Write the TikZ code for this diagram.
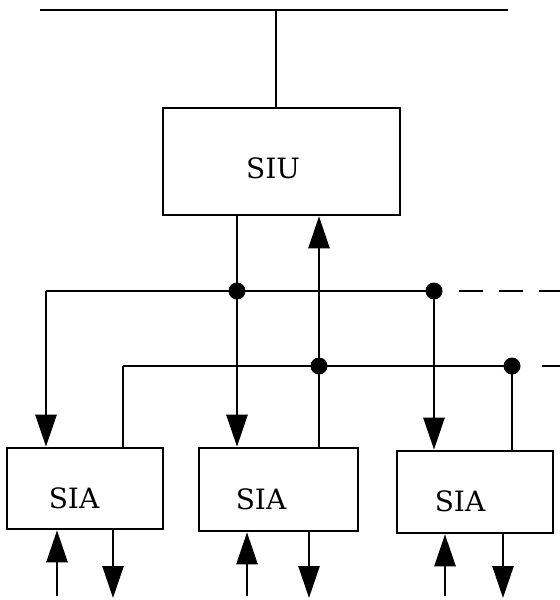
\documentclass[tikz,border=0pt]{standalone}
\usepackage{fontspec}
\setmainfont{DejaVu Serif}
\usetikzlibrary{arrows.meta}
\begin{document}
\begin{tikzpicture}[x=0.5pt,y=-0.5pt,
  line width=1.3pt,
  unit/.style={draw, rectangle, inner sep=0pt},
  boxtext/.style={inner sep=0pt, font=\fontsize{14}{16}\selectfont},
  tip/.style={-{Triangle[length=16pt,width=10.5pt]}},
  junction/.style={circle, fill, inner sep=0pt, minimum size=8.5pt},
  cont/.style={dash pattern=on 12pt off 8pt}]
\useasboundingbox (0,0) rectangle (560,600);

% system bus
\coordinate (busL) at (40,10);
\coordinate (busR) at (508,10);
\coordinate (busT) at (276,10);
\draw (busL) -- (busR);

% interface unit and adapters
\node[unit, minimum width=118.5pt, minimum height=53.5pt] (siu) at (281.5,161.5) {};
\node[boxtext] (siut) at (273,168) {SIU};
\node[unit, minimum width=78pt, minimum height=40.5pt] (sia1) at (85,488.5) {};
\node[boxtext] (sia1t) at (74,498) {SIA};
\node[unit, minimum width=79.5pt, minimum height=41.5pt] (sia2) at (278.5,489.5) {};
\node[boxtext] (sia2t) at (261,499) {SIA};
\node[unit, minimum width=78pt, minimum height=41pt] (sia3) at (475,492) {};
\node[boxtext] (sia3t) at (460,501) {SIA};

\draw (busT) -- (siu.north -| busT);

% downstream line (SIU -> adapters)
\coordinate (b1L) at (46,291);
\coordinate (d1) at (237,291);
\coordinate (d2) at (434,291);
\coordinate (c1a) at (459,291);
\coordinate (c1b) at (560,291);
\draw (b1L) -- (d2);
\draw[cont] (c1a) -- (c1b);
\draw (siu.south -| d1) -- (d1);
\draw[tip] (d1) -- (sia2.north -| d1);
\draw[tip] (b1L) -- (sia1.north -| b1L);
\draw[tip] (d2) -- (sia3.north -| d2);

% upstream line (adapters -> SIU)
\coordinate (b2L) at (123,366);
\coordinate (d3) at (319,366);
\coordinate (d4) at (512,366);
\coordinate (c2a) at (542,366);
\coordinate (c2b) at (560,366);
\draw (b2L) -- (d4);
\draw[cont] (c2a) -- (c2b);
\draw (sia1.north -| b2L) -- (b2L);
\draw (sia2.north -| d3) -- (d3);
\draw[tip] (d3) -- (siu.south -| d3);
\draw (sia3.north -| d4) -- (d4);

% junction dots
\foreach \j in {d1,d2,d3,d4} \node[junction] at (\j) {};

% adapter ports
\coordinate (in1) at (57,596);
\coordinate (out1) at (113,598);
\coordinate (in2) at (247,596);
\coordinate (out2) at (309,598);
\coordinate (in3) at (445,596);
\coordinate (out3) at (503,598);
\draw[tip] (in1) -- (in1 |- sia1.south);
\draw[tip] (out1 |- sia1.south) -- (out1);
\draw[tip] (in2) -- (in2 |- sia2.south);
\draw[tip] (out2 |- sia2.south) -- (out2);
\draw[tip] (in3) -- (in3 |- sia3.south);
\draw[tip] (out3 |- sia3.south) -- (out3);
\end{tikzpicture}
\end{document}
